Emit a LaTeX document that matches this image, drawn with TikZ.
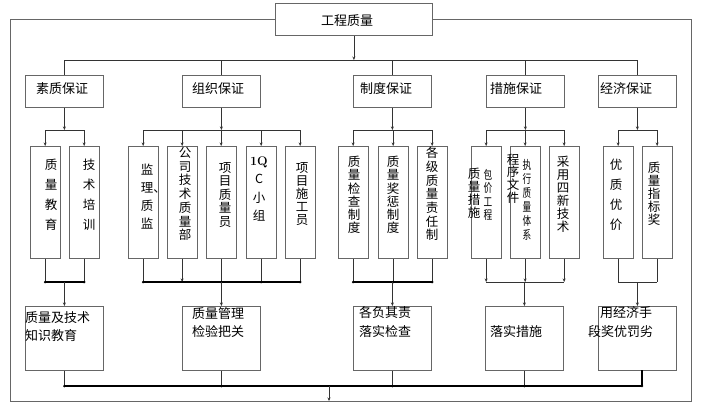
\documentclass[tikz,border=0pt]{standalone}
\usepackage{fontspec}
\newfontfamily\cjk{Noto Sans CJK SC}
\newfontfamily\cjknarrow[FakeStretch=0.72]{Noto Sans CJK SC}
\usetikzlibrary{arrows.meta}
\newcommand\myvfont[2]{\cjk\fontsize{#1}{#2}\selectfont\lineskiplimit=-20pt\relax\lineskip=0pt\relax}
\newcommand\myvnfont[2]{\cjknarrow\fontsize{#1}{#2}\selectfont\lineskiplimit=-20pt\relax\lineskip=0pt\relax}
\tikzset{
  box/.style={draw=black!60, line width=0.8pt, rectangle, inner sep=0pt, anchor=north west},
  lbox/.style={box, minimum width=78pt, minimum height=32pt},
  vbox/.style={box, minimum width=29.5pt, minimum height=112pt},
  bbox/.style={box, minimum width=78pt, minimum height=64pt},
  frame/.style={draw=black!60, line width=0.8pt},
  ln/.style={draw=black!80, line width=0.7pt},
  arr/.style={ln, -{Stealth[length=3.5pt,width=3pt]}},
  coll/.style={draw=black, line width=1.1pt},
  jdot/.style={circle, fill=black, inner sep=0pt, minimum size=2.8pt},
  lbl/.style={inner sep=0pt, font={\cjk\fontsize{13}{17}\selectfont}},
  vt/.style={inner sep=0pt, align=center, font={\myvfont{12.5}{#1}}},
  vn/.style={inner sep=0pt, align=center, font={\myvnfont{12}{#1}}}
}
\begin{document}
\begin{tikzpicture}[x=1pt,y=-1pt]
\useasboundingbox (0,0) rectangle (710,410);

% top box and frame
\node[box, minimum width=157pt, minimum height=32pt] (t) at (275,3) {};
\node[lbl] (tt) at (347,21) {工程质量};
\coordinate (ftl) at (10,19);
\coordinate (fbl) at (10,401);
\coordinate (fbr) at (691,401);
\coordinate (ftr) at (691,19);
\draw[frame] (t.west |- ftl) -- (ftl) -- (fbl) -- (fbr) -- (ftr) -- (t.east |- ftr);

% level 2
\node[lbox] (a1) at (25,75) {};
\node[lbox] (a2) at (182,75) {};
\node[lbox] (a3) at (353,75) {};
\node[lbox] (a4) at (486,75) {};
\node[lbox] (a5) at (598,75) {};
\node[lbl, anchor=west] (ta1) at (36,89) {素质保证};
\node[lbl, anchor=west] (ta2) at (192,89) {组织保证};
\node[lbl, anchor=west] (ta3) at (360,89) {制度保证};
\node[lbl, anchor=west] (ta4) at (490,89) {措施保证};
\node[lbl, anchor=west] (ta5) at (600,89) {经济保证};

\coordinate (r1) at (0,60);
\draw[arr] (t.south) -- (t.south |- r1);
\draw[ln] (a1.north |- r1) -- (a5.north |- r1);
\foreach \n in {a1,a2,a3,a4,a5} \draw[ln] (\n.north |- r1) -- (\n.north);

% level 3 boxes
\node[vbox] (c11) at (30,146) {};
\node[vbox] (c12) at (69,146) {};
\node[vbox] (c21) at (128,146) {};
\node[vbox] (c22) at (167,146) {};
\node[vbox] (c23) at (206,146) {};
\node[vbox] (c24) at (246,146) {};
\node[vbox] (c25) at (285,146) {};
\node[vbox] (c31) at (338,146) {};
\node[vbox] (c32) at (378,146) {};
\node[vbox] (c33) at (417,146) {};
\node[vbox] (c41) at (471,146) {};
\node[vbox] (c42) at (510,146) {};
\node[vbox] (c43) at (549,146) {};
\node[vbox] (c51) at (603,146) {};
\node[vbox] (c52) at (642,146) {};

% level 3 texts
\node[vt=20] (tc11) at (51,195) {质\\量\\教\\育};
\node[vt=20] (tc12) at (89,195) {技\\术\\培\\训};
\node[vt=18] (tc21) at (147,197) {监\\理\rlap{、}\\质\\监};
\node[vt=13.7] (tc22) at (185,194) {公\\司\\技\\术\\质\\量\\部};
\node[vt=13.5] (tc23) at (225,195) {项\\目\\质\\量\\员};
\node[vt=18.5] (tc24) at (259,189) {{\rmfamily\bfseries 1Q}\\C\\小\\组};
\node[vt=13] (tc25) at (302,194) {项\\目\\施\\工\\员};
\node[vt=13.2] (tc31) at (354,195) {质\\量\\检\\查\\制\\度};
\node[vt=13.2] (tc32) at (393,195) {质\\量\\奖\\惩\\制\\度};
\node[vt=13.7] (tc33) at (432,194) {各\\级\\质\\量\\责\\任\\制};
\node[vt=13] (tc41a) at (474,193.5) {质\\量\\措\\施};
\node[vn=13.3] (tc41b) at (488,195) {包\\价\\工\\程};
\node[vt=12.6] (tc42a) at (513,178.5) {程\\序\\文\\件};
\node[vn=14] (tc42b) at (527,200) {执\\行\\质\\量\\体\\系};
\node[vt=13] (tc43) at (563,194.5) {采\\用\\四\\新\\技\\术};
\node[vt=20] (tc51) at (616,195) {优\\质\\优\\价};
\node[vt=13] (tc52) at (654,194) {质\\量\\指\\标\\奖};

% level 2 -> level 3
\coordinate (r2) at (0,130);
\foreach \a in {a1,a2,a3,a4,a5} \draw[arr] (\a.south) -- (\a.south |- r2);
\draw[ln] (c11.north |- r2) -- (c12.north |- r2);
\draw[ln] (c21.north |- r2) -- (c25.north |- r2);
\draw[ln] (c31.north |- r2) -- (c33.north |- r2);
\draw[ln] (c41.north |- r2) -- (c43.north |- r2);
\draw[ln] (c51.north |- r2) -- (c52.north |- r2);
\foreach \c in {c11,c12,c21,c22,c23,c24,c25,c31,c32,c33,c41,c42,c43,c51,c52}
  \draw[arr] (\c.north |- r2) -- (\c.north);

% bottom boxes
\node[bbox] (b1) at (25,306) {};
\node[bbox] (b2) at (182,306) {};
\node[bbox] (b3) at (353,306) {};
\node[bbox] (b4) at (485,306) {};
\node[bbox] (b5) at (598,306) {};
\node[lbl, anchor=west] (tb1a) at (25,318) {质量及技术};
\node[lbl, anchor=west] (tb1b) at (25,336) {知识教育};
\node[lbl, anchor=west] (tb2a) at (192,314) {质量管理};
\node[lbl, anchor=west] (tb2b) at (192,332) {检验把关};
\node[lbl, anchor=west] (tb3a) at (359,313) {各负其责};
\node[lbl, anchor=west] (tb3b) at (359,332) {落实检查};
\node[lbl, anchor=west] (tb4) at (490,332) {落实措施};
\node[lbl, anchor=west] (tb5a) at (600,313) {用经济手};
\node[lbl, anchor=west] (tb5b) at (588,332) {段奖优罚劣};

% level 3 -> collectors
\coordinate (r3) at (0,282);
\foreach \c in {c11,c12,c21,c23,c24,c25,c31,c32,c33,c51,c52}
  \draw[ln] (\c.south) -- (\c.south |- r3);
\foreach \c in {c22,c41,c42,c43}
  \draw[arr] (\c.south) -- (\c.south |- r3);
\draw[coll] (c11.south |- r3) -- (c12.south |- r3);
\draw[coll] (c21.south |- r3) -- (c25.south |- r3);
\draw[coll] (c31.south |- r3) -- (c33.south |- r3);
\draw[ln] (c41.south |- r3) -- (c43.south |- r3);
\draw[ln] (c51.south |- r3) -- (c52.south |- r3);
\foreach \c in {c11,c12,c21,c23,c24,c25,c31,c32,c33}
  \node[jdot] at (\c.south |- r3) {};
\foreach \b in {b1,b2,b3,b4,b5}
  \draw[arr] (\b.north |- r3) -- (\b.north);

% bottom collector
\coordinate (r4) at (0,386);
\coordinate (b5s) at (642,370);
\coordinate (out) at (329,401);
\foreach \b in {b1,b2,b3,b4} \draw[ln] (\b.south) -- (\b.south |- r4);
\draw[coll] (b5s) -- (b5s |- r4);
\draw[coll] (b1.south |- r4) -- (b5s |- r4);
\foreach \b in {b1,b2,b3,b4} \node[jdot] at (\b.south |- r4) {};
\node[jdot] at (b5s |- r4) {};
\draw[arr] (out |- r4) -- (out);
\end{tikzpicture}
\end{document}
